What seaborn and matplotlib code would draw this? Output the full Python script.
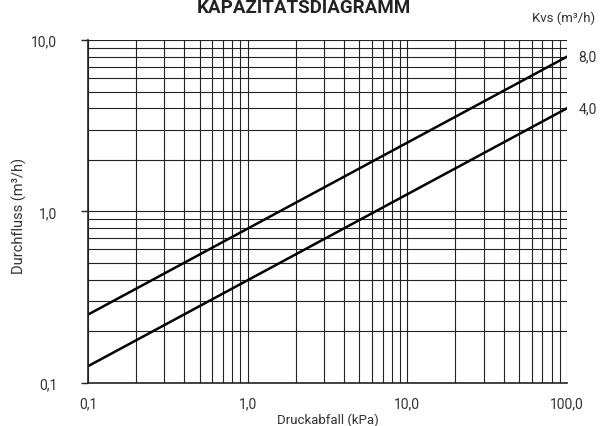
import numpy as np
import pandas as pd
import matplotlib
matplotlib.use("Agg")
import matplotlib.pyplot as plt
import seaborn as sns
from matplotlib.ticker import FixedLocator, LogLocator, NullFormatter

# Kapazitaetsdiagramm: Durchfluss vs. Druckabfall (endpoints)
dp_kpa = [0.1, 100.0]
flow_kvs8 = [0.25, 8.0]
flow_kvs4 = [0.125, 4.0]
kvs_labels = ["8,0", "4,0"]
x_ticks = [0.1, 1.0, 10.0, 100.0]
x_tick_labels = ["0,1", "1,0", "10,0", "100,0"]
y_ticks = [0.1, 1.0, 10.0]
y_tick_labels = ["0,1", "1,0", "10,0"]

sns.set_theme(style="white")
plt.rcParams['font.family'] = ['Roboto', 'DejaVu Sans']

df = pd.DataFrame({
    'dp': dp_kpa * 2,
    'flow': flow_kvs8 + flow_kvs4,
    'kvs': [kvs_labels[0]] * 2 + [kvs_labels[1]] * 2,
})

fig = plt.figure(figsize=(6.02, 4.27), dpi=100)
ax = fig.add_axes([0.146, 0.101, 0.796, 0.803])

sns.lineplot(data=df, x='dp', y='flow', units='kvs', estimator=None,
             color='black', linewidth=1.8, ax=ax, legend=False)

ax.set_xscale('log')
ax.set_yscale('log')
ax.set_xlim(0.1, 100)
ax.set_ylim(0.1, 10)

ax.xaxis.set_major_locator(FixedLocator(x_ticks))
ax.set_xticklabels(x_tick_labels)
ax.yaxis.set_major_locator(FixedLocator(y_ticks))
ax.set_yticklabels(y_tick_labels)
ax.xaxis.set_minor_locator(LogLocator(base=10, subs=np.arange(2, 10)))
ax.yaxis.set_minor_locator(LogLocator(base=10, subs=np.arange(2, 10)))
ax.xaxis.set_minor_formatter(NullFormatter())
ax.yaxis.set_minor_formatter(NullFormatter())

ax.grid(True, which='both', color='#222222', linewidth=0.8)
ax.set_axisbelow(True)
for side in ['top', 'right']:
    ax.spines[side].set_visible(False)
for side in ['left', 'bottom']:
    ax.spines[side].set_color('#222222')
    ax.spines[side].set_linewidth(1.2)

ax.tick_params(axis='x', which='major', length=0, labelsize=10,
               labelcolor='#333333', pad=10)
ax.tick_params(axis='y', which='major', length=5, width=1, color='#222222',
               labelsize=10, labelcolor='#333333', pad=17, left=True)
ax.tick_params(axis='both', which='minor', length=0)

ax.set_xlabel('Druckabfall (kPa)', fontsize=9.5, color='#333333', labelpad=1.5)
ax.set_ylabel('Durchfluss (m³/h)', fontsize=10.5, color='#333333')
ax.yaxis.set_label_coords(-0.128, 0.49)

# Kvs labels at right end of each line
for lbl, yv in zip(kvs_labels, [flow_kvs8[-1], flow_kvs4[-1]]):
    ax.annotate(lbl, xy=(1.0, yv), xycoords=('axes fraction', 'data'),
                xytext=(8, 0), textcoords='offset points',
                ha='left', va='center', fontsize=10, color='#333333')

fig.text(0.988, 0.958, 'Kvs (m³/h)', ha='right', va='center', fontsize=9.5, color='#333333')
fig.text(0.505, 0.982, 'KAPAZITÄTSDIAGRAMM', ha='center', va='center',
         fontsize=13.5, fontweight='bold', color='#222222')

fig.savefig('out.png', dpi=100)
